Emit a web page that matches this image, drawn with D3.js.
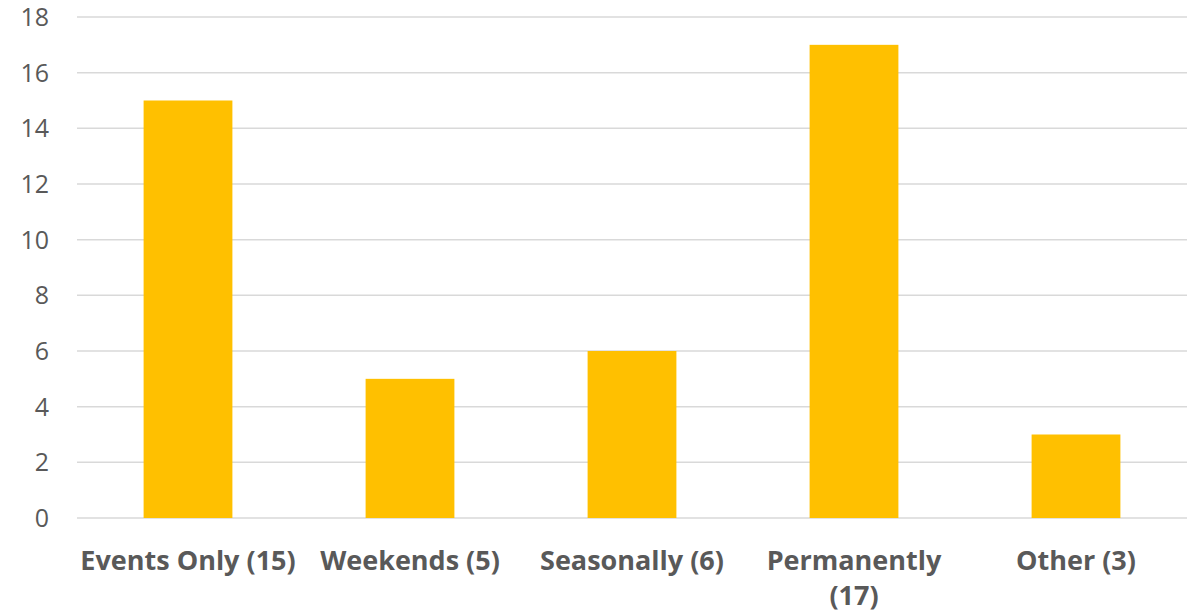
<!DOCTYPE html>
<html><head><meta charset="utf-8">
<script src="https://cdn.jsdelivr.net/npm/d3@7"></script>
<style>body{margin:0;background:#fff}svg{display:block}</style>
</head><body>
<svg id="c" width="1199" height="615"></svg>
<script>
const categories = ["Events Only (15)", "Weekends (5)", "Seasonally (6)", "Permanently (17)", "Other (3)"];
const values = [15, 5, 6, 17, 3];
const yTicks = [0, 2, 4, 6, 8, 10, 12, 14, 16, 18];

const svg = d3.select("#c");
const m = {left: 77, right: 12, top: 17, bottom: 97};
const W = 1199, H = 615;
const x = d3.scaleBand().domain(categories).range([m.left, W - m.right]).paddingInner(0.6).paddingOuter(0.3);
const y = d3.scaleLinear().domain([0, 18]).range([H - m.bottom, m.top]);

svg.append("g").selectAll("line").data(yTicks).join("line")
  .attr("x1", m.left).attr("x2", W - m.right)
  .attr("y1", d => y(d)).attr("y2", d => y(d))
  .attr("stroke", "#d9d9d9").attr("stroke-width", 1.5);

svg.append("g").selectAll("rect").data(values).join("rect")
  .attr("x", (d, i) => x(categories[i])).attr("width", x.bandwidth())
  .attr("y", d => y(d)).attr("height", d => y(0) - y(d))
  .attr("fill", "#FFC000");

svg.append("g").selectAll("text").data(yTicks).join("text")
  .attr("x", 49).attr("y", d => y(d)).attr("dy", "0.36em")
  .attr("text-anchor", "end").attr("fill", "#595959")
  .attr("font-family", "Open Sans, sans-serif").attr("font-size", 25)
  .text(d => d);

const lbl = svg.append("g").selectAll("text").data(categories).join("text")
  .attr("x", d => x(d) + x.bandwidth() / 2).attr("y", 570)
  .attr("text-anchor", "middle").attr("fill", "#595959")
  .attr("font-family", "Open Sans, sans-serif").attr("font-weight", "bold").attr("font-size", 27);
lbl.each(function(d) {
  const t = d3.select(this);
  const parts = d === "Permanently (17)" ? ["Permanently", "(17)"] : [d];
  parts.forEach((p, i) => t.append("tspan").attr("x", t.attr("x")).attr("dy", i ? 35 : 0).text(p));
});
</script>
</body></html>
